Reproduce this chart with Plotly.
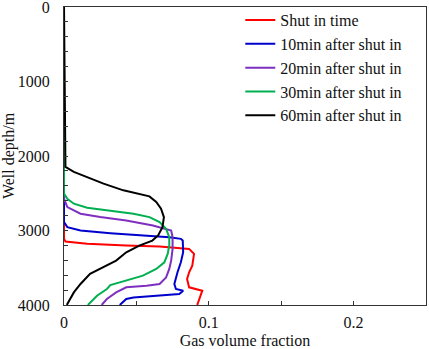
import plotly.graph_objects as go

names = ["Shut in time", "10min after shut in", "20min after shut in",
         "30min after shut in", "60min after shut in"]
colors = ["#ff0000", "#0000cc", "#7f2fbf", "#00b050", "#000000"]

red_depth = [0, 3112, 3148, 3179, 3202, 3215, 3247, 3314, 3472, 3561, 3651, 3763, 3808, 3875, 4000]
red_frac = [0, 0, 0.001, 0.016, 0.043, 0.066, 0.0864, 0.0898, 0.0886, 0.0864, 0.085, 0.0864, 0.0955, 0.0943, 0.092]

blue_depth = [0, 2888, 2955, 3000, 3036, 3067, 3090, 3112, 3135, 3292, 3427, 3561, 3718, 3785, 3808, 3853, 3875, 3898, 3920, 4000]
blue_frac = [0, 0, 0.0023, 0.0114, 0.032, 0.0545, 0.0727, 0.0807, 0.082, 0.0823, 0.0807, 0.0784, 0.0762, 0.0773, 0.0823, 0.0796, 0.066, 0.048, 0.043, 0.0385]

purple_depth = [0, 2573, 2686, 2775, 2820, 2865, 2932, 2977, 3000, 3090, 3247, 3404, 3516, 3629, 3718, 3741, 3763, 3831, 3920, 4000]
purple_frac = [0, 0, 0.0023, 0.0114, 0.025, 0.043, 0.0614, 0.0705, 0.074, 0.075, 0.075, 0.074, 0.0727, 0.0705, 0.066, 0.057, 0.043, 0.036, 0.0296, 0.026]

green_depth = [0, 2505, 2573, 2640, 2694, 2730, 2775, 2820, 2888, 2977, 3090, 3202, 3314, 3427, 3516, 3606, 3673, 3732, 3785, 3875, 4000]
green_frac = [0, 0, 0.0023, 0.0068, 0.016, 0.032, 0.048, 0.059, 0.066, 0.0705, 0.0727, 0.0727, 0.0716, 0.0693, 0.0637, 0.0545, 0.043, 0.032, 0.0296, 0.0228, 0.0165]

black_depth = [0, 2146, 2214, 2282, 2371, 2461, 2505, 2542, 2618, 2708, 2820, 2955, 3067, 3135, 3202, 3292, 3404, 3494, 3583, 3718, 3831, 3987, 4000]
black_frac = [0, 0.001, 0.0068, 0.016, 0.0273, 0.041, 0.052, 0.059, 0.0637, 0.067, 0.069, 0.068, 0.065, 0.061, 0.052, 0.043, 0.036, 0.027, 0.018, 0.0114, 0.0068, 0.0023, 0.002]

series = [(red_frac, red_depth), (blue_frac, blue_depth), (purple_frac, purple_depth),
          (green_frac, green_depth), (black_frac, black_depth)]

fig = go.Figure()
for (xf, yd), nm, c in zip(series, names, colors):
    fig.add_trace(go.Scatter(x=xf, y=yd, mode="lines", name=nm,
                             line=dict(color=c, width=2)))

font = dict(family="Liberation Serif, Times New Roman, serif", size=16, color="#111")
fig.update_layout(
    width=429, height=349,
    margin=dict(l=64, r=3, t=7, b=44, autoexpand=False),
    paper_bgcolor="white", plot_bgcolor="white",
    font=font,
    showlegend=True,
    legend=dict(x=0.487, y=1.013, xanchor="left", yanchor="top",
                bgcolor="rgba(0,0,0,0)", font=font, itemwidth=30,
                tracegroupgap=0),
)
fig.update_xaxes(range=[0, 0.25], tickvals=[0, 0.1, 0.2], ticktext=["0", "0.1", "0.2"],
                 ticks="inside", ticklen=4, tickcolor="#333", tickfont=font,
                 minor=dict(dtick=0.05, ticks="inside", ticklen=4, tickcolor="#333"),
                 showline=True, linecolor="#333", linewidth=1, mirror=True,
                 showgrid=False, zeroline=False, automargin=False,
                 ticklabelstandoff=3, ticklabeloverflow="allow",
                 title=dict(text="Gas volume fraction", standoff=5, font=font))
fig.update_yaxes(range=[4000, 0], tickvals=[0, 1000, 2000, 3000, 4000],
                 ticks="inside", ticklen=4, tickcolor="#333", tickfont=font,
                 minor=dict(dtick=200, ticks="inside", ticklen=4, tickcolor="#333"),
                 showline=True, linecolor="#333", linewidth=1, mirror=True,
                 showgrid=False, zeroline=False, ticklabelstandoff=10, automargin=False,
                 ticklabeloverflow="allow",
                 title=dict(text="Well depth/m", standoff=0, font=font))
fig.write_html("out.html", config={"displayModeBar": False},
               post_script="document.body.style.margin='0';document.body.style.overflow='hidden';")
